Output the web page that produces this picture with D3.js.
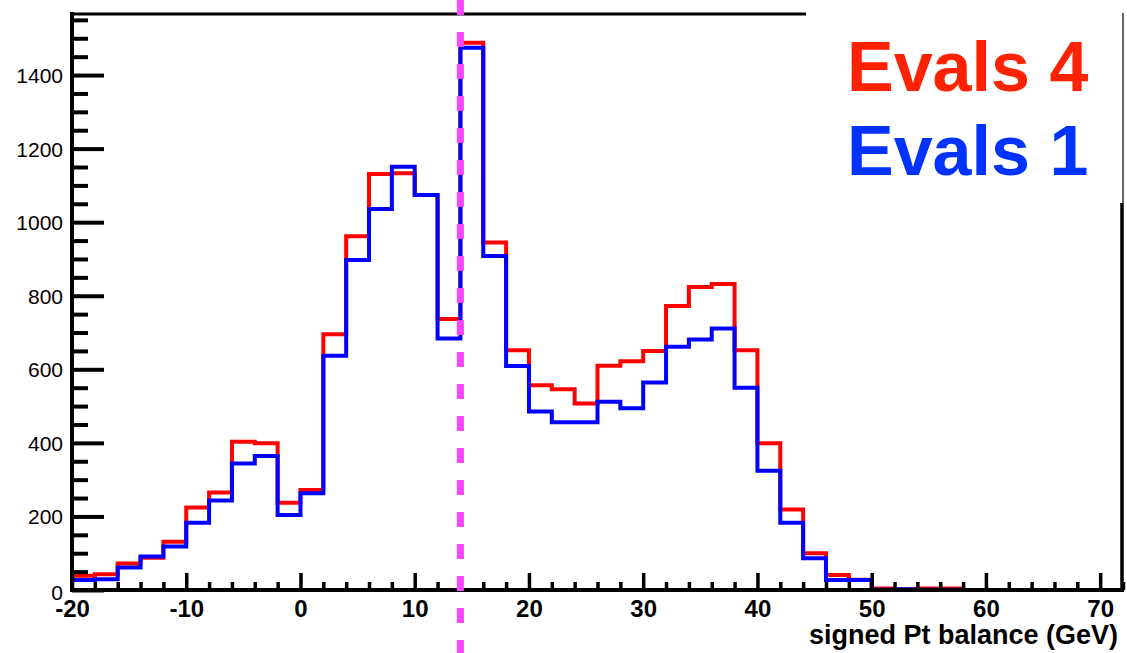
<!DOCTYPE html>
<html>
<head>
<meta charset="utf-8">
<script src="https://cdn.jsdelivr.net/npm/d3@7"></script>
<style>
  html, body { margin: 0; padding: 0; background: #fff; }
  svg { display: block; font-family: "Liberation Sans", Arial, Helvetica, sans-serif; }
</style>
</head>
<body>
<svg id="chart" width="1127" height="653"></svg>
<script>
// Histogram binning: 2 GeV bins from -20 to 72 GeV
const binLow = -20;
const binWidth = 2;

// Entries per bin, "Evals 4"
const evals4 = [39, 43, 72, 88, 131, 224, 265, 403, 399, 237, 272, 695, 962, 1131, 1133, 1074, 737, 1488,
  945, 652, 557, 546, 507, 610, 622, 650, 772, 824, 832, 652, 399, 219, 100, 41, 28, 4, 2, 4, 4,
  0, 0, 0, 0, 0, 0, 0];

// Entries per bin, "Evals 1"
const evals1 = [27, 29, 61, 91, 118, 183, 243, 344, 364, 204, 263, 637, 897, 1036, 1151, 1074, 684, 1474,
  908, 609, 485, 456, 456, 512, 494, 564, 661, 681, 711, 550, 324, 183, 86, 27, 27, 1, 2, 1, 1,
  0, 0, 0, 0, 0, 0, 0];

const xMajorTicks = [-20, -10, 0, 10, 20, 30, 40, 50, 60, 70];
const yMajorTicks = [0, 200, 400, 600, 800, 1000, 1200, 1400];
const cutValue = 14;
const legendLabels = ["Evals 4", "Evals 1"];
const xTitle = "signed Pt balance (GeV)";

const svg = d3.select("#chart");

const x = d3.scaleLinear().domain([-20, 72]).range([72, 1123]);
const y = d3.scaleLinear().domain([0, 1566]).range([590, 14]);

const xMinorTicks = d3.range(-20, 72.001, 2).filter(v => v % 10 !== 0);
const yMinorTicks = d3.range(0, 1566, 50).filter(v => v % 200 !== 0);

// Step outline of a histogram
function stepPath(vals) {
  const p = d3.path();
  vals.forEach((v, i) => {
    const x0 = x(binLow + i * binWidth), x1 = x(binLow + (i + 1) * binWidth);
    if (i === 0) p.moveTo(x0, y(v)); else p.lineTo(x0, y(v));
    p.lineTo(x1, y(v));
  });
  return p.toString();
}

// Frame: top and right edges
svg.append("line").attr("x1", 72).attr("x2", 806).attr("y1", 14).attr("y2", 14)
  .attr("stroke", "#000").attr("stroke-width", 3);
svg.append("line").attr("x1", 1123).attr("x2", 1123).attr("y1", 13).attr("y2", 203)
  .attr("stroke", "#000").attr("stroke-width", 1.2);
svg.append("line").attr("x1", 1122).attr("x2", 1122).attr("y1", 203).attr("y2", 592)
  .attr("stroke", "#000").attr("stroke-width", 3.5);

// Histograms
svg.append("path").attr("d", stepPath(evals4)).attr("fill", "none")
  .attr("stroke", "#ff0000").attr("stroke-width", 4).attr("stroke-linejoin", "miter");
svg.append("path").attr("d", stepPath(evals1)).attr("fill", "none")
  .attr("stroke", "#0000ff").attr("stroke-width", 4).attr("stroke-linejoin", "miter");

// Y axis
const yAxisMinor = svg.append("g").attr("transform", "translate(72,0)")
  .call(d3.axisLeft(y).tickValues(yMinorTicks).tickSize(-16).tickFormat(""));
const yAxis = svg.append("g").attr("transform", "translate(72,0)")
  .call(d3.axisLeft(y).tickValues(yMajorTicks).tickSize(-32).tickFormat(d => String(d)));
[yAxisMinor, yAxis].forEach(g => {
  g.select(".domain").remove();
  g.selectAll(".tick line").attr("stroke", "#000").attr("stroke-width", 4);
});
yAxis.selectAll(".tick text").attr("x", -9).attr("dy", "0.36em")
  .attr("font-size", 21).attr("fill", "#000");
yAxis.selectAll(".tick").filter(d => d === 0).select("text").attr("dy", "0.43em");

// X axis
const xAxisMinor = svg.append("g").attr("transform", "translate(0,590)")
  .call(d3.axisBottom(x).tickValues(xMinorTicks).tickSize(-8).tickFormat(""));
const xAxis = svg.append("g").attr("transform", "translate(0,590)")
  .call(d3.axisBottom(x).tickValues(xMajorTicks).tickSize(-17).tickFormat(d => String(d)));
[xAxisMinor, xAxis].forEach(g => {
  g.select(".domain").remove();
  g.selectAll(".tick line").attr("stroke", "#000").attr("stroke-width", 3.5);
});
xAxis.selectAll(".tick text").attr("y", 27).attr("dy", 0)
  .attr("font-size", 24).attr("font-weight", "bold").attr("fill", "#000");

// Axis lines
svg.append("line").attr("x1", 72).attr("x2", 72).attr("y1", 12).attr("y2", 592)
  .attr("stroke", "#000").attr("stroke-width", 4);
svg.append("line").attr("x1", 70).attr("x2", 1124).attr("y1", 590).attr("y2", 590)
  .attr("stroke", "#000").attr("stroke-width", 4);

// X axis title
svg.append("text").attr("x", 1118).attr("y", 644).attr("text-anchor", "end")
  .attr("font-size", 27).attr("font-weight", "bold").attr("fill", "#000").text(xTitle);

// Cut line
svg.append("line").attr("x1", x(cutValue)).attr("x2", x(cutValue)).attr("y1", 0).attr("y2", 653)
  .attr("stroke", "#ff44ff").attr("stroke-width", 7).attr("stroke-dasharray", "15,17");

// Legend
const legendColors = ["#ff2200", "#0033ff"];
svg.selectAll(".legend").data(legendLabels).join("text")
  .attr("class", "legend")
  .attr("x", 847).attr("y", (d, i) => 91 + i * 84)
  .attr("font-size", 70).attr("font-weight", "bold")
  .attr("fill", (d, i) => legendColors[i]).text(d => d);
</script>
</body>
</html>
